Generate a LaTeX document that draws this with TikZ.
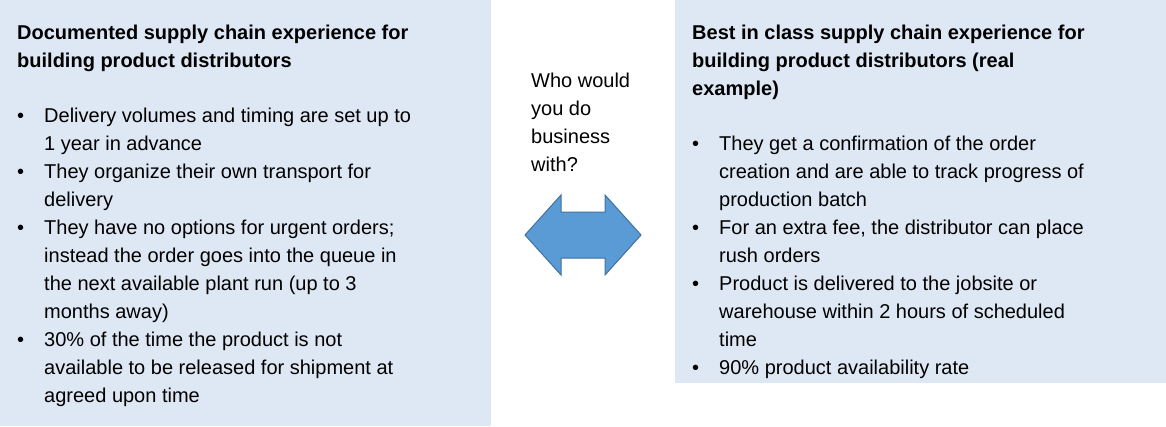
\documentclass[tikz,border=0pt]{standalone}
\usepackage{fontspec}
\setmainfont{Liberation Sans}
\begin{document}
\begin{tikzpicture}[x=1pt,y=-1pt,
  txt/.style={anchor=base west,inner sep=0pt,font=\fontsize{20}{28}\selectfont},
  ttl/.style={txt,font=\fontsize{20}{28}\selectfont\bfseries}]
\definecolor{boxc}{HTML}{DEE8F4}
\definecolor{arrf}{HTML}{5B9BD5}
\definecolor{arrd}{HTML}{41719C}
\useasboundingbox (0,0) rectangle (1166,426);
\fill[boxc] (0,0) rectangle (491,426);
\fill[boxc] (675,0) rectangle (1166,383);
% left
\foreach \y/\t [count=\i] in {39/{Documented supply chain experience for},67/{building product distributors}}
  \node[ttl] (lt\i) at (17,\y) {\t};
\foreach \y in {122,178,234,346} \node[txt] at (17,\y) {\textbullet};
\foreach \y/\t [count=\i] in {122/{Delivery volumes and timing are set up to},150/{1 year in advance},
  178/{They organize their own transport for},206/{delivery},
  234/{They have no options for urgent orders;},262/{instead the order goes into the queue in},
  290/{the next available plant run (up to 3},318/{months away)},
  346/{30\% of the time the product is not},374/{available to be released for shipment at},
  402/{agreed upon time}}
  \node[txt] (l\i) at (44,\y) {\t};
% right
\foreach \y/\t [count=\i] in {39/{Best in class supply chain experience for},67/{building product distributors (real},95/{example)}}
  \node[ttl] (rt\i) at (692,\y) {\t};
\foreach \y in {150,234,290,374} \node[txt] at (692,\y) {\textbullet};
\foreach \y/\t [count=\i] in {150/{They get a confirmation of the order},178/{creation and are able to track progress of},
  206/{production batch},
  234/{For an extra fee, the distributor can place},262/{rush orders},
  290/{Product is delivered to the jobsite or},318/{warehouse within 2 hours of scheduled},346/{time},
  374/{90\% product availability rate}}
  \node[txt] (r\i) at (719,\y) {\t};
% middle
\foreach \y/\t [count=\i] in {87/{Who would},115/{you do},143/{business},171/{with?}}
  \node[txt] (q\i) at (531,\y) {\t};
\draw[arrd,fill=arrf,line width=1pt] (525,235) -- (561,195) -- (561,212) -- (605,212) -- (605,195)
  -- (641,235) -- (605,275) -- (605,258) -- (561,258) -- (561,275) -- cycle;
\end{tikzpicture}
\end{document}
